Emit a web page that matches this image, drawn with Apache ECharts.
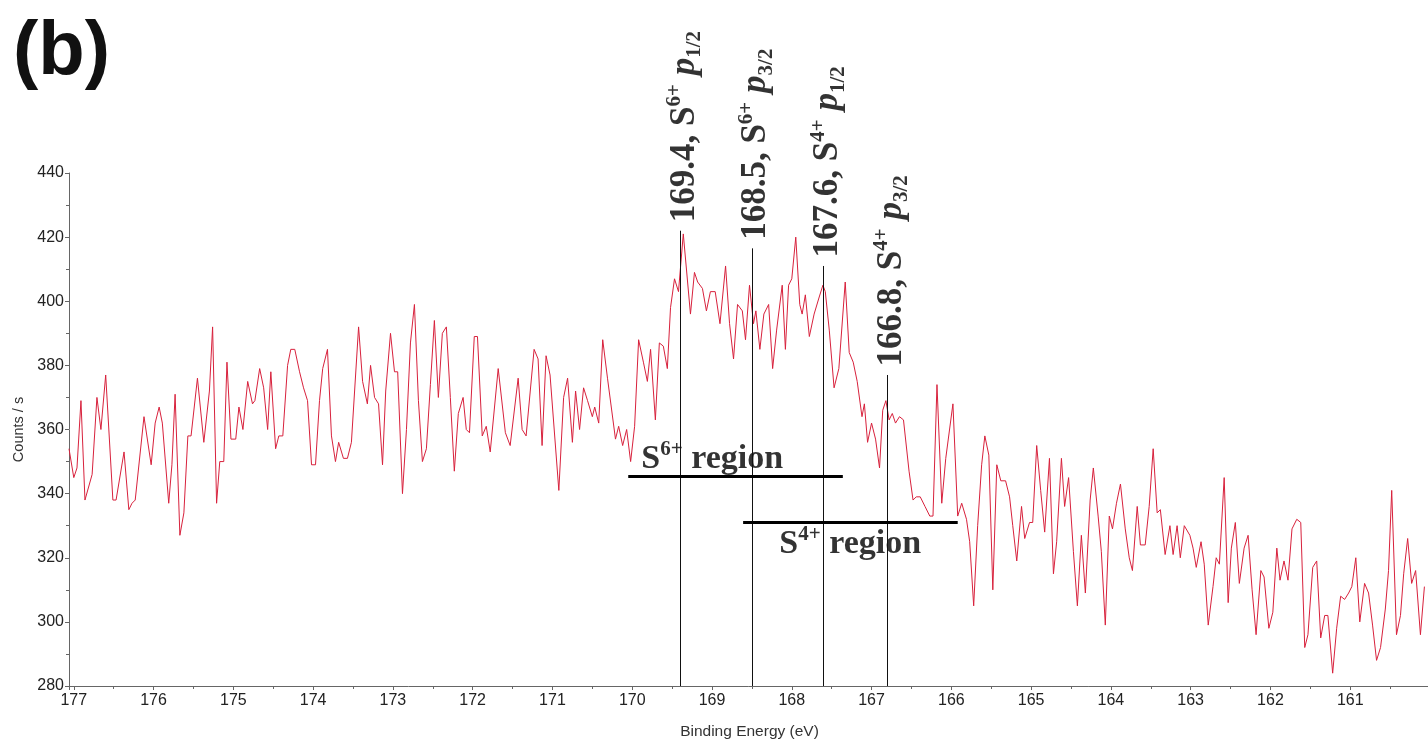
<!DOCTYPE html>
<html>
<head>
<meta charset="utf-8">
<title>S 2p XPS spectrum (b)</title>
<script src="https://cdn.jsdelivr.net/npm/echarts@6/dist/echarts.min.js"></script>
<style>
  html, body { margin: 0; padding: 0; background: #fff; }
  #chart { width: 1428px; height: 743px; }
</style>
</head>
<body>
<div id="chart"></div>
<script>
// binding energy (eV) of each spectrum point
const energy = [
  177.06, 177.00, 176.96, 176.91, 176.86, 176.77, 176.71, 176.66, 176.60, 176.51,
  176.47, 176.37, 176.31, 176.27, 176.23, 176.12, 176.03, 175.98, 175.93, 175.89,
  175.81, 175.77, 175.73, 175.67, 175.62, 175.57, 175.53, 175.45, 175.37, 175.30,
  175.26, 175.21, 175.17, 175.12, 175.08, 175.03, 174.97, 174.93, 174.88, 174.82,
  174.76, 174.73, 174.67, 174.62, 174.57, 174.53, 174.47, 174.43, 174.38, 174.32,
  174.28, 174.23, 174.17, 174.12, 174.07, 174.02, 173.97, 173.92, 173.88, 173.82,
  173.77, 173.72, 173.68, 173.62, 173.57, 173.52, 173.43, 173.38, 173.32, 173.28,
  173.23, 173.18, 173.13, 173.09, 173.03, 172.98, 172.94, 172.88, 172.83, 172.78,
  172.73, 172.68, 172.63, 172.58, 172.53, 172.48, 172.43, 172.38, 172.33, 172.28,
  172.23, 172.18, 172.12, 172.08, 172.04, 171.98, 171.94, 171.88, 171.83, 171.78,
  171.68, 171.59, 171.53, 171.43, 171.38, 171.33, 171.23, 171.18, 171.13, 171.08,
  171.03, 170.92, 170.86, 170.81, 170.75, 170.71, 170.66, 170.61, 170.56, 170.50,
  170.47, 170.42, 170.37, 170.31, 170.21, 170.17, 170.12, 170.07, 170.02, 169.97,
  169.92, 169.86, 169.81, 169.77, 169.71, 169.66, 169.61, 169.56, 169.52, 169.47,
  169.42, 169.36, 169.27, 169.22, 169.18, 169.12, 169.07, 169.02, 168.96, 168.90,
  168.83, 168.78, 168.73, 168.68, 168.62, 168.58, 168.53, 168.48, 168.45, 168.40,
  168.35, 168.29, 168.24, 168.19, 168.12, 168.08, 168.04, 168.00, 167.95, 167.90,
  167.87, 167.83, 167.78, 167.72, 167.66, 167.61, 167.58, 167.53, 167.47, 167.41,
  167.33, 167.28, 167.23, 167.18, 167.12, 167.09, 167.05, 167.00, 166.95, 166.90,
  166.86, 166.82, 166.78, 166.74, 166.70, 166.65, 166.60, 166.53, 166.48, 166.44,
  166.39, 166.33, 166.27, 166.23, 166.18, 166.12, 166.07, 165.98, 165.92, 165.87,
  165.81, 165.77, 165.72, 165.67, 165.62, 165.58, 165.53, 165.48, 165.43, 165.38,
  165.32, 165.27, 165.23, 165.18, 165.12, 165.08, 165.02, 164.98, 164.93, 164.88,
  164.83, 164.77, 164.72, 164.68, 164.62, 164.58, 164.53, 164.47, 164.42, 164.37,
  164.32, 164.26, 164.22, 164.16, 164.12, 164.07, 164.02, 163.98, 163.93, 163.88,
  163.82, 163.77, 163.73, 163.67, 163.63, 163.57, 163.52, 163.47, 163.42, 163.38,
  163.32, 163.26, 163.22, 163.17, 163.13, 163.08, 163.01, 162.97, 162.93, 162.87,
  162.83, 162.78, 162.72, 162.68, 162.64, 162.58, 162.53, 162.49, 162.44, 162.39,
  162.33, 162.28, 162.23, 162.18, 162.12, 162.08, 162.02, 161.97, 161.92, 161.88,
  161.83, 161.78, 161.73, 161.67, 161.62, 161.57, 161.53, 161.47, 161.42, 161.37,
  161.32, 161.28, 161.22, 161.17, 161.12, 161.07, 161.02, 160.98, 160.93, 160.88,
  160.82, 160.77, 160.72, 160.67, 160.62, 160.56, 160.52, 160.48, 160.42, 160.37,
  160.33, 160.28, 160.23, 160.18, 160.12, 160.07
];
// counts per second at each energy
const counts = [
  354, 345, 348, 369, 338, 346, 370, 360, 377, 338,
  338, 353, 335, 337, 338, 364, 349, 362, 367, 362,
  337, 349, 371, 327, 334, 358, 358, 376, 356, 372,
  392, 337, 350, 350, 381, 357, 357, 367, 360, 375,
  368, 369, 379, 373, 360, 378, 354, 358, 358, 380,
  385, 385, 378, 373, 369, 349, 349, 369, 379, 385,
  358, 350, 356, 351, 351, 356, 392, 375, 368, 380,
  370, 368, 349, 372, 390, 378, 378, 340, 360, 387,
  399, 369, 350, 354, 374, 394, 370, 390, 392, 370,
  347, 365, 370, 360, 359, 389, 389, 358, 361, 353,
  379, 359, 355, 376, 360, 358, 385, 382, 355, 383,
  377, 341, 370, 376, 356, 372, 360, 373, 369, 364,
  367, 362, 388, 376, 357, 361, 355, 360, 350, 361,
  388, 381, 375, 385, 363, 387, 386, 379, 398, 407,
  403, 421, 396, 409, 406, 404, 397, 403, 403, 393,
  411, 393, 382, 399, 397, 388, 405, 393, 397, 385,
  396, 399, 379, 391, 405, 385, 405, 407, 420, 399,
  396, 402, 389, 396, 401, 405, 403, 391, 373, 379,
  406, 384, 381, 375, 364, 368, 356, 362, 357, 348,
  366, 369, 363, 365, 362, 364, 363, 347, 338, 339,
  339, 336, 333, 333, 374, 337, 351, 368, 333, 337,
  332, 325, 305, 330, 349, 358, 352, 310, 349, 344,
  344, 339, 330, 319, 336, 326, 331, 331, 355, 341,
  328, 351, 315, 325, 351, 336, 345, 322, 305, 327,
  309, 338, 348, 333, 322, 299, 333, 329, 337, 343,
  329, 320, 316, 336, 324, 324, 336, 354, 334, 335,
  321, 330, 321, 330, 320, 330, 327, 323, 317, 325,
  318, 299, 311, 320, 318, 345, 306, 323, 331, 312,
  323, 327, 310, 296, 316, 314, 298, 303, 323, 313,
  319, 313, 329, 332, 331, 292, 296, 317, 319, 295,
  302, 302, 284, 298, 308, 307, 309, 311, 320, 300,
  312, 309, 299, 288, 292, 304, 316, 341, 296, 302,
  315, 326, 312, 316, 296, 311
];

// peak assignments: energy, top of the marker line (counts), oxidation state, orbital
const peakEnergy = [169.4, 168.5, 167.6, 166.8];
const peakTop = [422, 416.5, 411, 377];
const peakState = ["6+", "6+", "4+", "4+"];
const peakOrbital = ["1/2", "3/2", "1/2", "3/2"];

// region bars: from / to energy, counts level, label anchor energy
const regionState = ["6+", "4+"];
const regionFrom = [170.05, 168.61];
const regionTo = [167.36, 165.92];
const regionLevel = [345.5, 331];
const regionLabelAt = [169.88, 168.15];

const xTicks = [177, 176, 175, 174, 173, 172, 171, 170, 169, 168, 167, 166, 165, 164, 163, 162, 161];

let chart = echarts.init(document.getElementById("chart"));

const serif = "Liberation Serif";
const rich = {
  n: { fontFamily: serif, fontWeight: "bold", fontSize: 35, lineHeight: 41, color: "#000" },
  p: { fontFamily: serif, fontWeight: "bold", fontStyle: "italic", fontSize: 35, lineHeight: 41, color: "#000" },
  sup: { fontFamily: serif, fontWeight: "bold", fontSize: 21, lineHeight: 22, verticalAlign: "top", color: "#000" },
  sub: { fontFamily: serif, fontWeight: "bold", fontSize: 21, lineHeight: 22, verticalAlign: "bottom", color: "#000" },
};
const richRegion = {
  n: { fontFamily: serif, fontWeight: "bold", fontSize: 34, lineHeight: 40, color: "#000" },
  sup: { fontFamily: serif, fontWeight: "bold", fontSize: 21, lineHeight: 22, verticalAlign: "top", color: "#000" },
};

let spectrum = energy.map((e, i) => [e, counts[i]]);

let labels = [];
peakEnergy.forEach((e, i) => {
  labels.push({
    value: [e, peakTop[i]],
    label: {
      formatter: "{n|" + e.toFixed(1) + ", S}{sup|" + peakState[i] + "}{n| }{p|p}{sub|" + peakOrbital[i] + "}",
      rich: rich,
      rotate: 90,
      align: "left",
      verticalAlign: "middle",
      // offset is in the rotated frame: along the text, then across it
      offset: [8, 5],
    },
  });
});
regionState.forEach((s, i) => {
  labels.push({
    value: [regionLabelAt[i], regionLevel[i]],
    label: {
      formatter: "{n|S}{sup|" + s + "}{n| region}",
      rich: richRegion,
      align: "left",
      verticalAlign: i === 0 ? "bottom" : "top",
      offset: i === 0 ? [0, 4] : [0, 2],
    },
  });
});

let lines = [];
peakEnergy.forEach((e, i) => {
  lines.push([
    { coord: [e, 280], lineStyle: { type: "solid", width: 1, color: "#111" } },
    { coord: [e, peakTop[i]] },
  ]);
});
regionState.forEach((s, i) => {
  lines.push([
    { coord: [regionFrom[i], regionLevel[i]], lineStyle: { type: "solid", width: 3, color: "#000" } },
    { coord: [regionTo[i], regionLevel[i]] },
  ]);
});

let option = {
  animation: false,
  backgroundColor: "#fff",
  title: {
    text: "(b)",
    left: 8,
    top: 10,
    textStyle: { fontFamily: "Liberation Sans", fontWeight: "bold", fontSize: 76, color: "#111" },
  },
  grid: { left: 69, right: -2, top: 173, bottom: 57, outerBoundsMode: "none" },
  xAxis: {
    type: "value",
    inverse: true,
    min: 160,
    max: 177.06,
    interval: 1,
    name: "Binding Energy (eV)",
    nameLocation: "middle",
    nameGap: 38,
    nameTextStyle: { fontFamily: "Liberation Sans", fontSize: 15.5, color: "#333" },
    axisLine: { lineStyle: { color: "#666", width: 1 } },
    axisTick: { show: true, length: 4, lineStyle: { color: "#666" } },
    minorTick: { show: true, splitNumber: 2, length: 3, lineStyle: { color: "#666" } },
    splitLine: { show: false },
    axisLabel: {
      fontFamily: "Liberation Sans",
      fontSize: 16,
      color: "#222",
      margin: 7,
      formatter: (v) => (xTicks.includes(Math.round(v * 100) / 100) ? String(v) : ""),
    },
  },
  yAxis: {
    type: "value",
    min: 280,
    max: 440,
    interval: 20,
    name: "Counts / s",
    nameLocation: "middle",
    nameGap: 42,
    nameTextStyle: { fontFamily: "Liberation Sans", fontSize: 14.5, color: "#333" },
    axisLine: { show: true, lineStyle: { color: "#666", width: 1 } },
    axisTick: { show: true, length: 4, lineStyle: { color: "#666" } },
    minorTick: { show: true, splitNumber: 2, length: 3, lineStyle: { color: "#666" } },
    splitLine: { show: false },
    axisLabel: { fontFamily: "Liberation Sans", fontSize: 16, color: "#222", margin: 5 },
  },
  series: [
    {
      type: "line",
      data: spectrum,
      showSymbol: false,
      smooth: false,
      lineStyle: { color: "#d8213c", width: 1 },
      z: 2,
    },
    {
      type: "scatter",
      data: labels,
      symbolSize: 1,
      itemStyle: { color: "rgba(0,0,0,0)" },
      silent: true,
      z: 3,
      label: { show: true, position: [0, 0], color: "#000" },
      markLine: {
        silent: true,
        symbol: ["none", "none"],
        label: { show: false },
        data: lines,
      },
    },
  ],
};
option && chart.setOption(option);
</script>
</body>
</html>
